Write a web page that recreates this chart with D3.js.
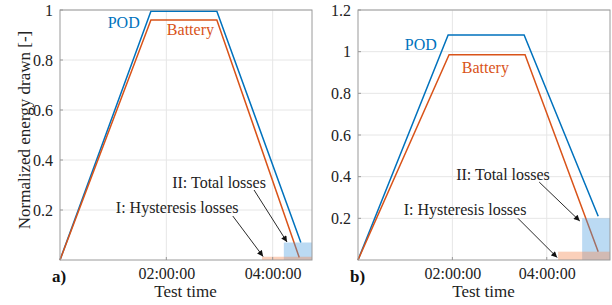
<!DOCTYPE html>
<html>
<head>
<meta charset="utf-8">
<script src="https://cdn.jsdelivr.net/npm/d3@7"></script>
<style>
	body { margin: 0; background: #fff; }
	svg { display: block; font-family: "Liberation Serif", "Times New Roman", serif; }
</style>
</head>
<body>
<svg id="chart" width="612" height="305"></svg>
<script>
// data, time in hours
const panelNames = ['a)', 'b)'];
const timeMax = [4.74, 5.34];
const valueMax = [1, 1.2];
const yTicks = [[0.2, 0.4, 0.6, 0.8, 1], [0.2, 0.4, 0.6, 0.8, 1, 1.2]];
const xTicks = [2, 4];
const xTickLabels = ['02:00:00', '04:00:00'];

const podTime = [[0, 1.71, 2.95, 4.53], [0, 1.91, 3.52, 5.09]];
const podValue = [[0, 0.995, 0.995, 0.07], [0, 1.08, 1.08, 0.21]];
const batteryTime = [[0, 1.71, 2.95, 4.50], [0, 1.93, 3.54, 5.09]];
const batteryValue = [[0, 0.96, 0.96, 0.01], [0, 0.985, 0.985, 0.04]];

// loss areas: start time and height, they run to the end of the axis
const totalLossStart = [4.21, 4.75];
const totalLossValue = [0.07, 0.2];
const hysteresisStart = [3.80, 4.24];
const hysteresisValue = [0.013, 0.04];

// annotations, in data units of each panel
const labels = [
	[
		{ text: 'POD', t: 1.50, v: 0.93, anchor: 'end', color: '#0072bd' },
		{ text: 'Battery', t: 2.01, v: 0.90, anchor: 'start', color: '#d95319' },
		{ text: 'II: Total losses', t: 2.11, v: 0.29, anchor: 'start', color: '#222' },
		{ text: 'I: Hysteresis losses', t: 1.05, v: 0.19, anchor: 'start', color: '#222' },
	],
	[
		{ text: 'POD', t: 1.67, v: 1.01, anchor: 'end', color: '#0072bd' },
		{ text: 'Battery', t: 2.20, v: 0.90, anchor: 'start', color: '#d95319' },
		{ text: 'II: Total losses', t: 2.08, v: 0.384, anchor: 'start', color: '#222' },
		{ text: 'I: Hysteresis losses', t: 0.97, v: 0.216, anchor: 'start', color: '#222' },
	],
];
const arrows = [
	[[3.65, 0.28, 4.27, 0.072], [3.25, 0.176, 3.82, 0.014]],
	[[3.84, 0.374, 4.70, 0.187], [3.39, 0.20, 4.22, 0.012]],
];

const frames = [
	{ left: 60, right: 312 },
	{ left: 358, right: 610 },
];
const plotTop = 10, plotBottom = 260;

const svg = d3.select('#chart');

svg.append('defs')
	.append('marker')
	.attr('id', 'head')
	.attr('viewBox', '0 0 10 10')
	.attr('refX', 10)
	.attr('refY', 5)
	.attr('markerWidth', 7)
	.attr('markerHeight', 6)
	.attr('markerUnits', 'userSpaceOnUse')
	.attr('orient', 'auto')
	.append('path')
	.attr('d', 'M0,0 L10,5 L0,10 Z')
	.attr('fill', '#111');

panelNames.forEach((name, p) => {
	const f = frames[p];
	const x = d3.scaleLinear().domain([0, timeMax[p]]).range([f.left, f.right]);
	const y = d3.scaleLinear().domain([0, valueMax[p]]).range([plotBottom, plotTop]);
	const g = svg.append('g');

	// grid
	g.append('g')
		.selectAll('line')
		.data(yTicks[p])
		.join('line')
		.attr('x1', f.left).attr('x2', f.right)
		.attr('y1', d => y(d)).attr('y2', d => y(d))
		.attr('stroke', '#e6e6e6');
	g.append('g')
		.selectAll('line')
		.data(xTicks)
		.join('line')
		.attr('x1', d => x(d)).attr('x2', d => x(d))
		.attr('y1', plotTop).attr('y2', plotBottom)
		.attr('stroke', '#e6e6e6');

	// lines
	const line = d3.line().x(d => x(d[0])).y(d => y(d[1]));
	g.append('path')
		.datum(d3.zip(podTime[p], podValue[p]))
		.attr('d', line)
		.attr('fill', 'none')
		.attr('stroke', '#0072bd')
		.attr('stroke-width', 1.5);
	g.append('path')
		.datum(d3.zip(batteryTime[p], batteryValue[p]))
		.attr('d', line)
		.attr('fill', 'none')
		.attr('stroke', '#d95319')
		.attr('stroke-width', 1.5);

	// loss areas on top of the lines, semi transparent
	g.append('rect')
		.attr('x', x(totalLossStart[p]))
		.attr('y', y(totalLossValue[p]))
		.attr('width', x(timeMax[p]) - x(totalLossStart[p]))
		.attr('height', y(0) - y(totalLossValue[p]))
		.attr('fill', '#4d9ee0')
		.attr('fill-opacity', 0.38);
	g.append('rect')
		.attr('x', x(hysteresisStart[p]))
		.attr('y', y(hysteresisValue[p]))
		.attr('width', x(timeMax[p]) - x(hysteresisStart[p]))
		.attr('height', y(0) - y(hysteresisValue[p]))
		.attr('fill', '#f58a52')
		.attr('fill-opacity', 0.4);

	// box
	g.append('rect')
		.attr('x', f.left).attr('y', plotTop)
		.attr('width', f.right - f.left).attr('height', plotBottom - plotTop)
		.attr('fill', 'none')
		.attr('stroke', '#9a9a9a')
		.attr('stroke-width', 1);

	// axes
	const yAxis = g.append('g')
		.attr('transform', `translate(${f.left},0)`)
		.call(d3.axisLeft(y).tickValues(yTicks[p]).tickFormat(d3.format('~g')).tickSize(0).tickPadding(7));
	const xAxis = g.append('g')
		.attr('transform', `translate(0,${plotBottom})`)
		.call(d3.axisBottom(x).tickValues(xTicks).tickFormat((d, i) => xTickLabels[i]).tickSize(0).tickPadding(8));
	[yAxis, xAxis].forEach(a => {
		a.attr('font-family', null);
		a.select('.domain').remove();
		a.selectAll('text')
			.attr('fill', '#222')
			.style('font-family', '"Liberation Serif", serif')
			.style('font-size', '16px');
	});
	// small inner ticks as matlab draws them
	g.append('g')
		.selectAll('line')
		.data(yTicks[p])
		.join('line')
		.attr('x1', f.left).attr('x2', f.left + 3)
		.attr('y1', d => y(d)).attr('y2', d => y(d))
		.attr('stroke', '#9a9a9a');
	g.append('g')
		.selectAll('line')
		.data(xTicks)
		.join('line')
		.attr('x1', d => x(d)).attr('x2', d => x(d))
		.attr('y1', plotBottom).attr('y2', plotBottom - 3)
		.attr('stroke', '#9a9a9a');

	// x title and panel letter
	g.append('text')
		.attr('x', (f.left + f.right) / 2 - 0.5)
		.attr('y', 297)
		.attr('text-anchor', 'middle')
		.attr('fill', '#222')
		.style('font-size', '17px')
		.text('Test time');
	g.append('text')
		.attr('x', f.left - 8)
		.attr('y', 282)
		.attr('fill', '#111')
		.style('font-size', '17px')
		.style('font-weight', 'bold')
		.text(name);

	// annotations
	g.selectAll('text.note')
		.data(labels[p])
		.join('text')
		.attr('class', 'note')
		.attr('x', d => x(d.t))
		.attr('y', d => y(d.v))
		.attr('text-anchor', d => d.anchor)
		.attr('fill', d => d.color)
		.style('font-size', '16px')
		.text(d => d.text);
	g.selectAll('line.arrow')
		.data(arrows[p])
		.join('line')
		.attr('class', 'arrow')
		.attr('x1', d => x(d[0])).attr('y1', d => y(d[1]))
		.attr('x2', d => x(d[2])).attr('y2', d => y(d[3]))
		.attr('stroke', '#111')
		.attr('stroke-width', 0.9)
		.attr('marker-end', 'url(#head)');
});

svg.append('text')
	.attr('transform', 'translate(30,130) rotate(-90)')
	.attr('text-anchor', 'middle')
	.attr('fill', '#222')
	.style('font-size', '17px')
	.text('Normalized energy drawn [-]');
</script>
</body>
</html>
